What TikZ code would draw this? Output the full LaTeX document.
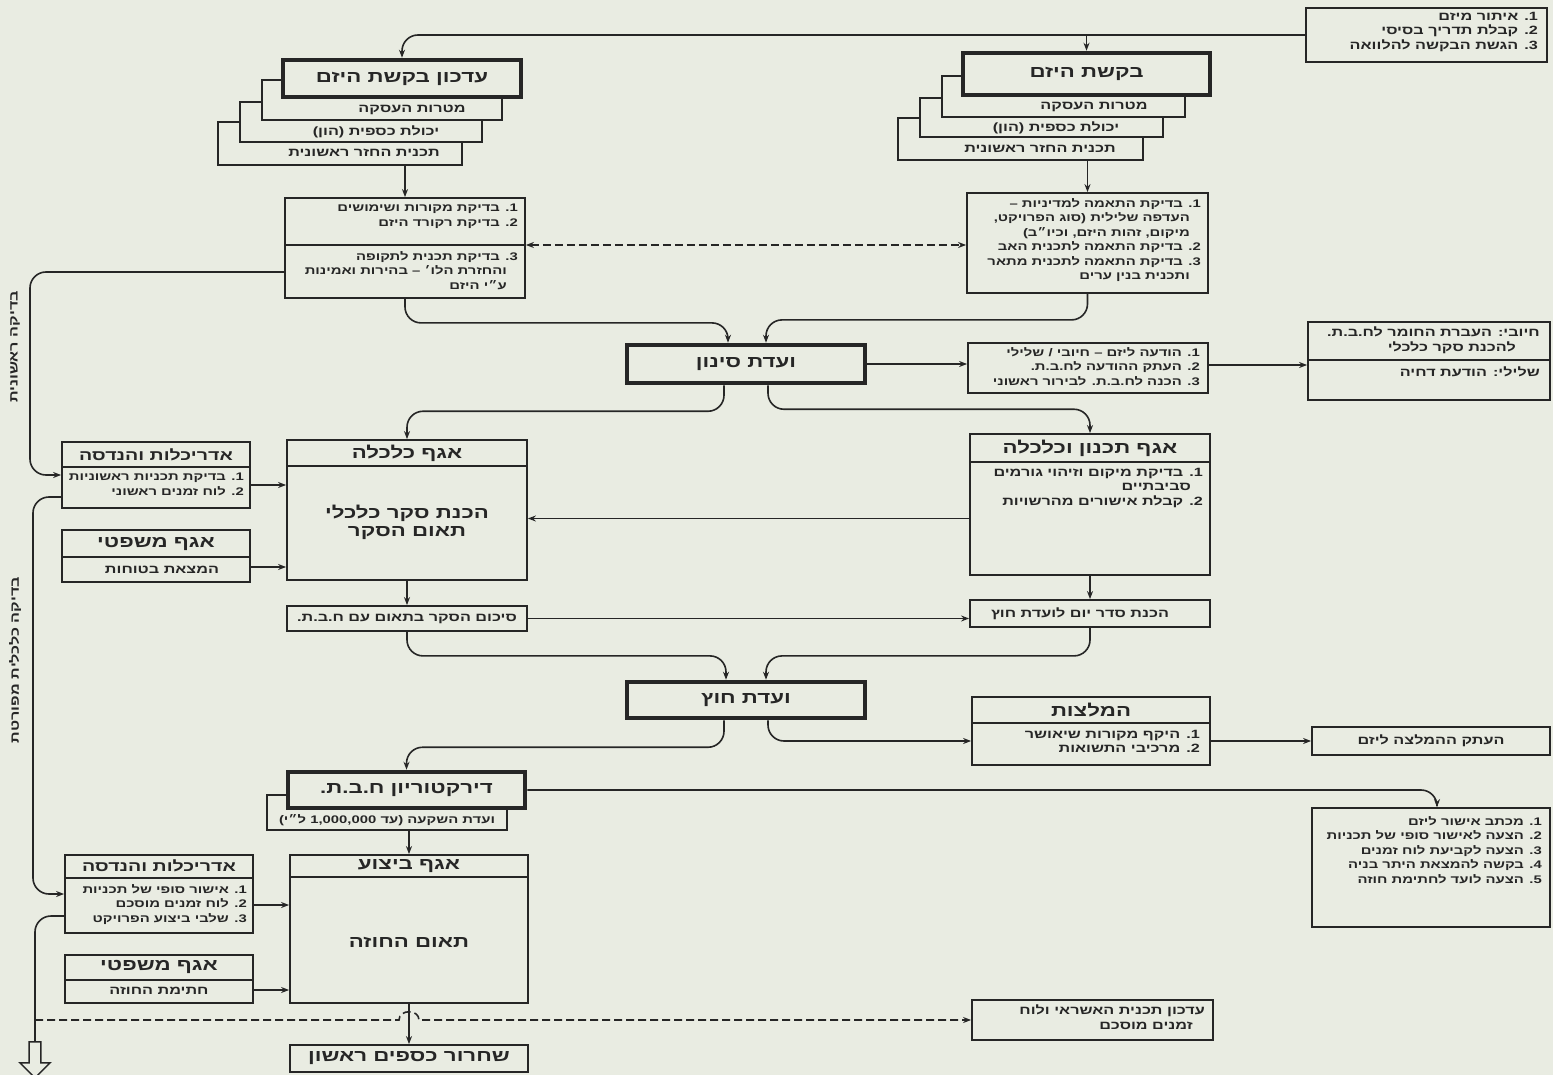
\documentclass[tikz,border=0pt]{standalone}
\usepackage{fontspec}
\usetikzlibrary{arrows.meta,fit,shapes.arrows}
\TeXXeTstate=1
\newfontfamily\hebfont[Script=Hebrew,FakeStretch=1.35]{Liberation Sans}
\newcommand{\heb}[1]{{\hebfont\beginR #1\endR}}
\definecolor{paper}{RGB}{233,236,226}
\definecolor{ink}{RGB}{38,38,38}

\begin{document}
\begin{tikzpicture}[x=1pt,y=-1pt,
  >={Stealth[length=8pt,width=6pt]},
  box/.style={draw=ink,fill=paper,line width=1.8pt,inner sep=0pt},
  bigbox/.style={box,line width=4.5pt},
  rule/.style={draw=ink,line width=1.8pt},
  body/.style={font=\bfseries\fontsize{12}{14.5}\selectfont,text=ink,align=right,inner sep=0pt},
  small/.style={body,font=\bfseries\fontsize{11}{14.5}\selectfont},
  head/.style={font=\bfseries\fontsize{16.5}{18}\selectfont,text=ink,inner sep=0pt},
  minihead/.style={head,font=\bfseries\fontsize{14.5}{16}\selectfont},
  link/.style={draw=ink,line width=1.6pt,->,rounded corners=16pt},
  side/.style={font=\bfseries\fontsize{12}{14}\selectfont,text=ink,inner sep=0pt,rotate=90}]
\fill[paper] (0,0) rectangle (1553,1075);
\useasboundingbox (0,0) rectangle (1553,1075);

% Request
\node[box,fit={(1306,8) (1547,62)}] (req) {};
\node[body,anchor=north east] (reqT) at (1538,12) {\heb{1. איתור מיזם}\\\heb{2. קבלת תדריך בסיסי}\\\heb{3. הגשת הבקשה להלוואה}};

% Developer request (stack)
\node[box,fit={(898,118) (1143,160)}] (rq3) {};
\node[box,fit={(920,98) (1163,137)}] (rq2) {};
\node[box,fit={(942,76) (1185,117)}] (rq1) {};
\node[bigbox,fit={(963,53) (1210,95)}] (rq) {};
\node[head] (rqT) at (rq) {\heb{בקשת היזם}};
\node[body] (rq1T) at (1094,107) {\heb{מטרות העסקה}};
\node[body] (rq2T) at (1056,128) {\heb{יכולת כספית (הון)}};
\node[body] (rq3T) at (1040,149) {\heb{תכנית החזר ראשונית}};

% Updated request (stack)
\node[box,fit={(218,122) (462,165)}] (up3) {};
\node[box,fit={(240,102) (482,142)}] (up2) {};
\node[box,fit={(262,80) (502,120)}] (up1) {};
\node[bigbox,fit={(283,60) (521,97)}] (up) {};
\node[head] (upT) at (up) {\heb{עדכון בקשת היזם}};
\node[body] (up1T) at (412,110) {\heb{מטרות העסקה}};
\node[body] (up2T) at (376,132) {\heb{יכולת כספית (הון)}};
\node[body] (up3T) at (364,153) {\heb{תכנית החזר ראשונית}};

% Checks
\node[box,fit={(285,198) (525,298)}] (fin) {};
\draw[rule] (285,245) -- (525,245);
\node[small,anchor=north east] (finT) at (518,204) {\heb{1. בדיקת מקורות ושימושים}\\\heb{2. בדיקת רקורד היזם}};
\node[small,anchor=north east] (finB) at (518,251) {\heb{3. בדיקת תכנית לתקופה}\\\heb{\quad והחזרת הלו׳ – בהירות ואמינות}\\\heb{\quad ע״י היזם}};
\node[box,fit={(967,193) (1208,293)}] (pol) {};
\node[small,anchor=north east] (polT) at (1201,198) {\heb{1. בדיקת התאמה למדיניות –}\\\heb{\quad העדפה שלילית (סוג הפרויקט,}\\\heb{\quad מיקום, זהות היזם, וכיו״ב)}\\\heb{2. בדיקת התאמה לתכנית האב}\\\heb{3. בדיקת התאמה לתכנית מתאר}\\\heb{\quad ותכנית בנין ערים}};

% Screening
\node[bigbox,fit={(627,345) (865,383)}] (scr) {};
\node[head] (scrT) at (scr) {\heb{ועדת סינון}};
\node[box,fit={(968,343) (1208,393)}] (note) {};
\node[small,anchor=north east] (noteT) at (1200,347) {\heb{1. הודעה ליזם – חיובי / שלילי}\\\heb{2. העתק ההודעה לח.ב.ת.}\\\heb{3. הכנה לח.ב.ת. לבירור ראשוני}};
\node[box,fit={(1308,322) (1550,400)}] (res) {};
\draw[rule] (1308,360) -- (1550,360);
\node[body,anchor=north east] (resT) at (1540,327) {\heb{חיובי: העברת החומר לח.ב.ת.}\\\heb{\qquad להכנת סקר כלכלי}};
\node[body,anchor=north east] (resB) at (1540,367) {\heb{שלילי: הודעת דחיה}};

% Survey
\node[box,fit={(62,442) (250,508)}] (arch) {};
\draw[rule] (62,467) -- (250,467);
\node[minihead] (archH) at (156,455) {\heb{אדריכלות והנדסה}};
\node[small,anchor=north east] (archT) at (244,473) {\heb{1. בדיקת תכניות ראשוניות}\\\heb{2. לוח זמנים ראשוני}};
\node[box,fit={(62,530) (250,582)}] (legal) {};
\draw[rule] (62,557) -- (250,557);
\node[head] (legalH) at (156,544) {\heb{אגף משפטי}};
\node[body] (legalT) at (162,570) {\heb{המצאת בטוחות}};
\node[box,fit={(287,440) (527,580)}] (econ) {};
\draw[rule] (287,466) -- (527,466);
\node[head] (econH) at (407,453) {\heb{אגף כלכלה}};
\node[head,align=center] (econT) at (407,522) {\heb{הכנת סקר כלכלי}\\\heb{תאום הסקר}};
\node[box,fit={(970,434) (1210,575)}] (plan) {};
\draw[rule] (970,462) -- (1210,462);
\node[head] (planH) at (1090,448) {\heb{אגף תכנון וכלכלה}};
\node[body,anchor=north east] (planT) at (1203,468) {\heb{1. בדיקת מיקום וזיהוי גורמים}\\\heb{\quad סביבתיים}\\\heb{2. קבלת אישורים מהרשויות}};
\node[box,fit={(287,606) (527,631)}] (sum) {};
\node[body] (sumT) at (sum) {\heb{סיכום הסקר בתאום עם ח.ב.ת.}};
\node[box,fit={(970,600) (1210,627)}] (agenda) {};
\node[body] (agendaT) at (1080,614) {\heb{הכנת סדר יום לועדת חוץ}};

% Committee
\node[bigbox,fit={(627,682) (865,718)}] (comm) {};
\node[head] (commT) at (comm) {\heb{ועדת חוץ}};
\node[box,fit={(972,697) (1210,765)}] (recs) {};
\draw[rule] (972,723) -- (1210,723);
\node[head] (recsH) at (1091,710) {\heb{המלצות}};
\node[body,anchor=north east] (recsT) at (1200,730) {\heb{1. היקף מקורות שיאושר}\\\heb{2. מרכיבי התשואות}};
\node[box,fit={(1312,727) (1550,755)}] (copy) {};
\node[body] (copyT) at (copy) {\heb{העתק ההמלצה ליזם}};

% Board
\node[box,fit={(267,795) (507,830)}] (inv) {};
\node[small] (invT) at (387,820) {\heb{ועדת השקעה (עד 1,000,000 ל״י)}};
\node[bigbox,fit={(288,772) (525,808)}] (board) {};
\node[head] (boardT) at (board) {\heb{דירקטוריון ח.ב.ת.}};
\node[box,fit={(1312,808) (1550,927)}] (appr) {};
\node[small,anchor=north east] (apprT) at (1542,816) {\heb{1. מכתב אישור ליזם}\\\heb{2. הצעה לאישור סופי של תכניות}\\\heb{3. הצעה לקביעת לוח זמנים}\\\heb{4. בקשה להמצאת היתר בניה}\\\heb{5. הצעה לועד לחתימת חוזה}};

% Execution
\node[box,fit={(65,855) (253,933)}] (arch2) {};
\draw[rule] (65,878) -- (253,878);
\node[minihead] (arch2H) at (159,866) {\heb{אדריכלות והנדסה}};
\node[small,anchor=north east] (arch2T) at (247,884) {\heb{1. אישור סופי של תכניות}\\\heb{2. לוח זמנים מוסכם}\\\heb{3. שלבי ביצוע הפרויקט}};
\node[box,fit={(65,955) (253,1003)}] (legal2) {};
\draw[rule] (65,980) -- (253,980);
\node[head] (legal2H) at (159,967) {\heb{אגף משפטי}};
\node[body] (legal2T) at (159,991) {\heb{חתימת החוזה}};
\node[box,fit={(290,855) (528,1003)}] (exec) {};
\draw[rule] (290,877) -- (528,877);
\node[head] (execH) at (409,866) {\heb{אגף ביצוע}};
\node[head] (execT) at (409,942) {\heb{תאום החוזה}};
\node[box,fit={(972,1000) (1213,1040)}] (credit) {};
\node[body,anchor=north east] (creditT) at (1205,1005) {\heb{עדכון תכנית האשראי ולוח}\\\heb{\quad זמנים מוסכם}};
\node[box,fit={(290,1045) (528,1072)}] (release) {};
\node[head] (releaseT) at (release) {\heb{שחרור כספים ראשון}};
\node[draw=ink,fill=paper,line width=1.5pt,single arrow,shape border rotate=270,
  minimum height=36pt,minimum width=30pt,inner sep=5pt,single arrow head extend=9pt] (next) at (35,1057) {};

% Side labels
\node[side] (sideA) at (15,347) {\heb{בדיקה ראשונית}};
\node[side] (sideB) at (15,660) {\heb{בדיקה כלכלית מפורטת}};

% Links
\draw[link] (req.west) -| (up.north);
\draw[link] (req.west -| rq.north) -- (rq.north);
\draw[link] (fin.north |- up3.south) -- (fin.north);
\draw[link] (pol.north |- rq3.south) -- (pol.north);
\draw[draw=ink,line width=1.6pt,<->,dash pattern=on 8pt off 4pt] ([yshift=3pt]fin.east) -- ([yshift=3pt]fin.east -| pol.west);
\draw[link] (fin.south) -- ++(0,24) -| ([xshift=-18pt]scr.north);
\draw[link] (pol.south) -- ++(0,26) -| ([xshift=20pt]scr.north);
\draw[link] (scr.east) -- (scr.east -| note.west);
\draw[link] ([yshift=3pt]note.east) -- ([yshift=3pt]note.east -| res.west);
\draw[link] ([yshift=-24pt]fin.west) -| (30,380) |- (arch.west);
\draw[link] ([xshift=-22pt]scr.south) -- ++(0,26) -| (econ.north);
\draw[link] ([xshift=22pt]scr.south) -- ++(0,24) -| (plan.north);
\draw[link] ([yshift=-10pt]arch.east) -- ([yshift=-10pt]arch.east -| econ.west);
\draw[link] ([yshift=-11pt]legal.east) -- ([yshift=-11pt]legal.east -| econ.west);
\draw[link] ([yshift=-14pt]plan.west) -- ([yshift=-14pt]plan.west -| econ.east);
\draw[link] (econ.south) -- (sum.north);
\draw[link] (plan.south) -- (agenda.north);
\draw[link] (sum.east) -- (sum.east -| agenda.west);
\draw[link] (sum.south) -- ++(0,24) -| ([xshift=-20pt]comm.north);
\draw[link] (agenda.south) -- ++(0,28) -| ([xshift=20pt]comm.north);
\draw[link] ([xshift=-22pt]comm.south) -- ++(0,27) -| (board.north);
\draw[link] ([xshift=22pt]comm.south) |- ([yshift=-10pt]recs.west);
\draw[link] ([yshift=-10pt]recs.west -| recs.east) -- ([yshift=-10pt]recs.west -| copy.west);
\draw[link] (board.east) -| ([xshift=6pt]appr.north);
\draw[link] (exec.north |- inv.south) -- (exec.north);
\draw[link] ([yshift=-22pt]arch.west) -| (33,700) |- (arch2.west);
\draw[link] ([yshift=-11pt]arch2.east) -- ([yshift=-11pt]arch2.east -| exec.west);
\draw[link] ([yshift=-11pt]legal2.east) -- ([yshift=-11pt]legal2.east -| exec.west);
\draw[link,-] ([yshift=-22pt]arch2.west) -| (next.north);
\draw[link] (exec.south) -- (release.north);
\coordinate (dstart) at (35,1020);
\draw[draw=ink,line width=1.6pt,->,dash pattern=on 8pt off 4pt] (dstart) -- (399,1020)
  .. controls (399,1009) and (419,1009) .. (419,1020) -- (dstart -| credit.west);
\end{tikzpicture}
\end{document}
